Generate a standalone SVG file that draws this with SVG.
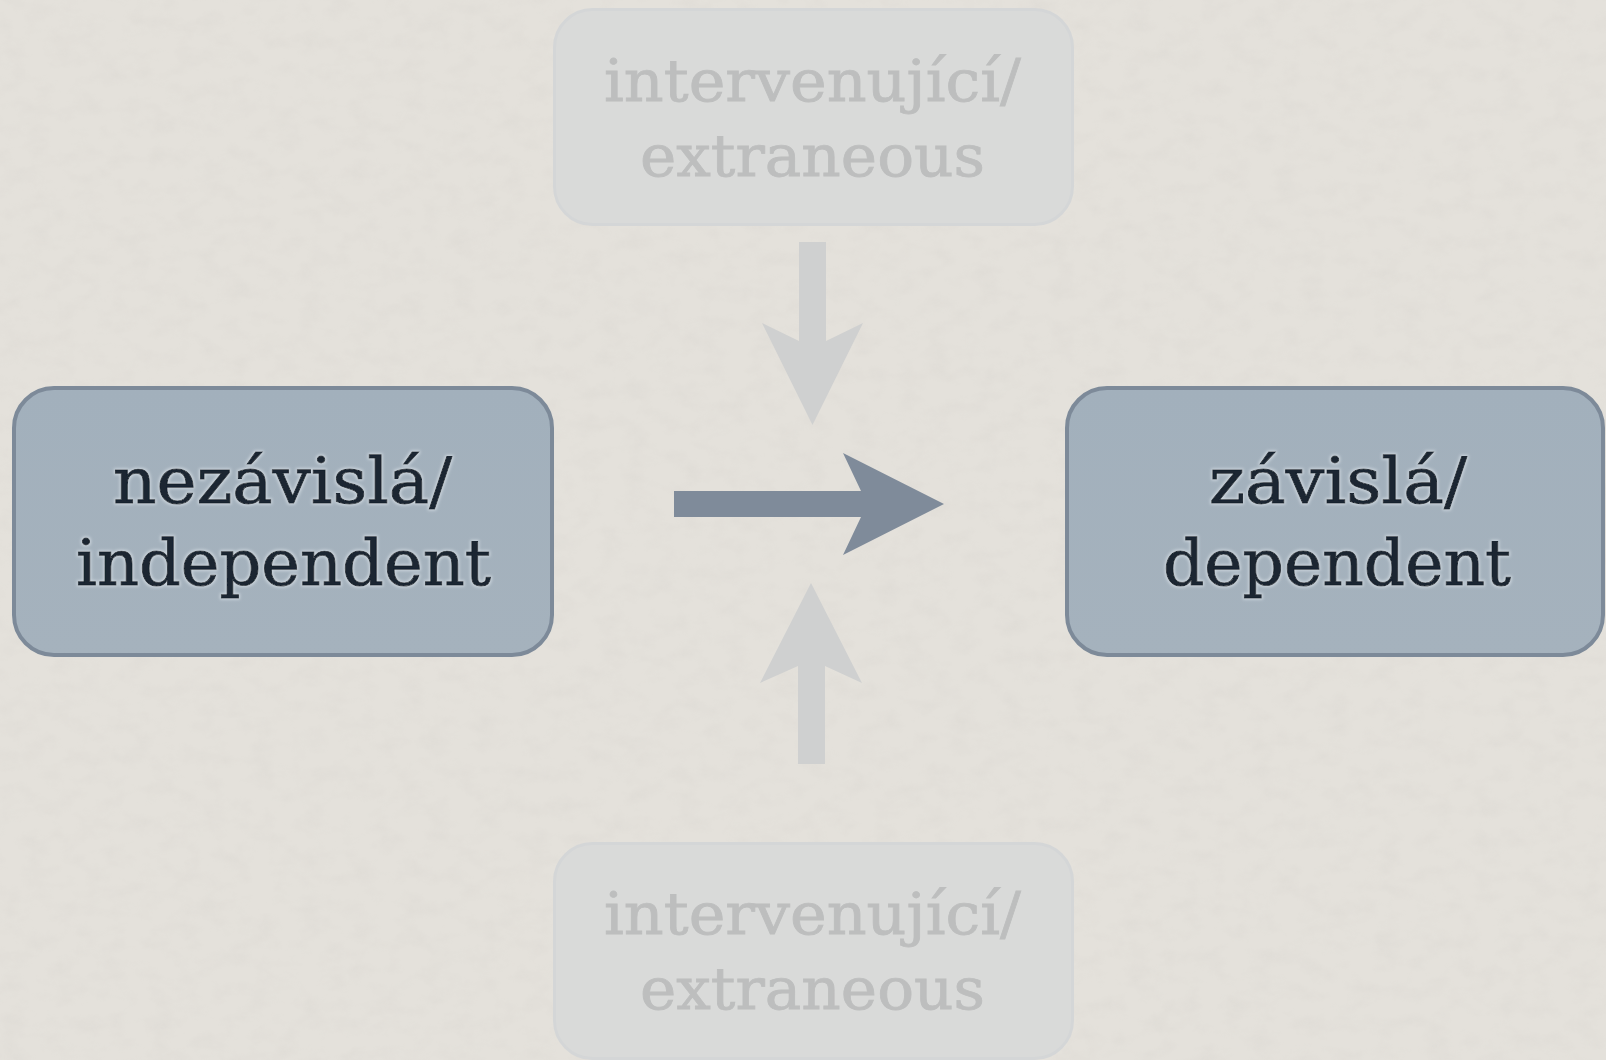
<svg xmlns="http://www.w3.org/2000/svg" width="1606" height="1060" viewBox="0 0 1606 1060">
  <defs>
    <filter id="paper" x="0" y="0" width="100%" height="100%">
      <feTurbulence type="fractalNoise" baseFrequency="0.04 0.06" numOctaves="4" seed="7" result="n"/>
      <feColorMatrix in="n" type="matrix" values="0 0 0 0 0.55  0 0 0 0 0.53  0 0 0 0 0.5  0 0 0 0.7 -0.3"/>
    </filter>
    <filter id="glow" x="-10%" y="-30%" width="120%" height="160%">
      <feMorphology in="SourceAlpha" operator="dilate" radius="1.2" result="d"/>
      <feGaussianBlur in="d" stdDeviation="1.6" result="b"/>
      <feFlood flood-color="#dfe6ec" flood-opacity="0.7"/>
      <feComposite in2="b" operator="in" result="g"/>
      <feMerge><feMergeNode in="g"/><feMergeNode in="SourceGraphic"/></feMerge>
    </filter>
    <linearGradient id="boxFill" x1="0" y1="0" x2="0" y2="1">
      <stop offset="0" stop-color="#a2b0bc"/>
      <stop offset="1" stop-color="#a5b2bd"/>
    </linearGradient>
  </defs>
  <style>
    .main rect { fill: url(#boxFill); stroke: #7d8a99; stroke-width: 4; }
    .main text { font-family: "DejaVu Serif", "Liberation Serif", serif; font-size: 64px; fill: #1a2530; stroke: #1a2530; stroke-width: 0.9px; text-anchor: middle; }
    .faded rect { fill: #d9dad9; stroke: #d4d6d7; stroke-width: 3; }
    .faded text { font-family: "DejaVu Serif", "Liberation Serif", serif; font-size: 58px; fill: #bdbebe; stroke: #bdbebe; stroke-width: 0.8px; text-anchor: middle; }
    .arrow-main { fill: #7f8b9a; }
    .arrow-faded { fill: #cfd0d0; }
  </style>

  <rect x="0" y="0" width="1606" height="1060" fill="#e4e1db"/>
  <rect x="0" y="0" width="1606" height="1060" filter="url(#paper)" opacity="0.35"/>

  <g id="node-top" class="faded">
    <rect x="554.5" y="9.5" width="518" height="215" rx="38" ry="38"/>
    <text x="812.5" y="101" textLength="417" lengthAdjust="spacingAndGlyphs">intervenující/</text>
    <text x="812.5" y="176" textLength="345" lengthAdjust="spacingAndGlyphs">extraneous</text>
  </g>

  <g id="node-bottom" class="faded">
    <rect x="554.5" y="843.5" width="518" height="215" rx="38" ry="38"/>
    <text x="812.5" y="934" textLength="417" lengthAdjust="spacingAndGlyphs">intervenující/</text>
    <text x="812.5" y="1009" textLength="345" lengthAdjust="spacingAndGlyphs">extraneous</text>
  </g>

  <g id="node-independent" class="main">
    <rect x="14" y="388" width="538" height="267" rx="40" ry="40"/>
    <g filter="url(#glow)">
      <text x="282.5" y="503" textLength="339" lengthAdjust="spacingAndGlyphs">nezávislá/</text>
      <text x="283.5" y="585" textLength="415" lengthAdjust="spacingAndGlyphs">independent</text>
    </g>
  </g>

  <g id="node-dependent" class="main">
    <rect x="1067" y="388" width="536" height="267" rx="40" ry="40"/>
    <g filter="url(#glow)">
      <text x="1338" y="503" textLength="258" lengthAdjust="spacingAndGlyphs">závislá/</text>
      <text x="1337" y="585" textLength="348" lengthAdjust="spacingAndGlyphs">dependent</text>
    </g>
  </g>

  <g id="connectors">
    <polygon class="arrow-main" points="674,491 861,491 843,453 944,504 843,555 861,517 674,517"/>
    <polygon class="arrow-faded" points="799,242 826,242 826,341 863,323 812.5,425 762,323 799,341"/>
    <polygon class="arrow-faded" points="798,764 825,764 825,666 862,683 811,583 760,683 798,666"/>
  </g>
</svg>
